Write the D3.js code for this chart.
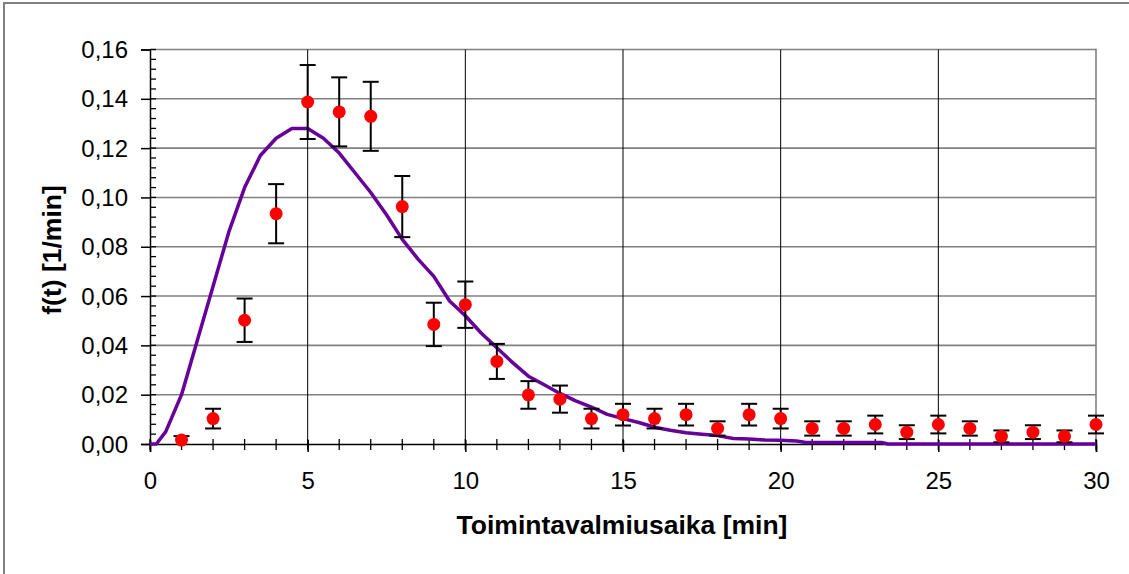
<!DOCTYPE html>
<html>
<head>
<meta charset="utf-8">
<script src="https://cdn.jsdelivr.net/npm/d3@7"></script>
<style>
  html, body { margin: 0; padding: 0; background: #fff; }
  svg { display: block; font-family: "Liberation Sans", Arial, sans-serif; }
</style>
</head>
<body>
<svg id="chart" width="1129" height="574"></svg>
<script>
// Observed density per minute (points with symmetric error bars)
const times = [1, 2, 3, 4, 5, 6, 7, 8, 9, 10, 11, 12, 13, 14, 15, 16, 17, 18, 19, 20, 21, 22, 23, 24, 25, 26, 27, 28, 29, 30];
const observed = [0.0016, 0.0103, 0.0502, 0.0934, 0.1387, 0.1347, 0.1329, 0.0963, 0.0485, 0.0565,
                  0.0335, 0.0199, 0.0182, 0.0103, 0.0119, 0.0103, 0.0119, 0.0063, 0.0119, 0.0103,
                  0.0063, 0.0063, 0.0079, 0.0048, 0.0079, 0.0063, 0.0031, 0.0048, 0.0031, 0.0079];
const errors = [0.0016, 0.0040, 0.0088, 0.0120, 0.0150, 0.0140, 0.0140, 0.0124, 0.0088, 0.0094,
                0.0071, 0.0056, 0.0055, 0.0040, 0.0044, 0.0040, 0.0044, 0.0029, 0.0044, 0.0040,
                0.0029, 0.0029, 0.0036, 0.0028, 0.0036, 0.0029, 0.0024, 0.0028, 0.0024, 0.0036];

// Fitted density curve
const curveT = [0, 0.2, 0.5, 1, 1.5, 2, 2.5, 3, 3.5, 4, 4.5, 5, 5.5, 6, 6.5, 7, 7.5, 8, 8.5, 9, 9.5,
                10, 10.5, 11, 11.5, 12, 12.5, 13, 13.5, 14, 14.5, 15, 15.5, 16, 16.5, 17, 17.5, 18,
                18.5, 19, 19.5, 20, 20.5, 20.8, 21.5, 22.5, 23.2, 23.4, 25, 30];
const curveF = [0, 0, 0.005, 0.020, 0.042, 0.064, 0.086, 0.104, 0.117, 0.124, 0.128, 0.128, 0.124, 0.118,
                0.110, 0.102, 0.093, 0.083, 0.075, 0.068, 0.058, 0.052, 0.045, 0.039, 0.033, 0.0275,
                0.024, 0.0205, 0.0175, 0.015, 0.012, 0.0103, 0.0087, 0.0068, 0.0056, 0.0046, 0.0040,
                0.0034, 0.0022, 0.0020, 0.0016, 0.0015, 0.0012, 0.0006, 0.0006, 0.0006, 0.0006, 0, 0, 0];

const yTicks = [0, 0.02, 0.04, 0.06, 0.08, 0.10, 0.12, 0.14, 0.16];
const xTicks = [0, 5, 10, 15, 20, 25, 30];

const xTitle = "Toimintavalmiusaika [min]";
const yTitle = "f(t) [1/min]";

const svg = d3.select("#chart");
const W = 1129, H = 574;
const plotL = 150, plotR = 1096, plotT = 49.5, plotB = 444;

const x = d3.scaleLinear().domain([0, 30]).range([plotL, plotR]);
const y = d3.scaleLinear().domain([0, 0.16]).range([plotB, plotT]);

const fmt = v => d3.format(".2f")(v).replace(".", ",");

// outer frame
svg.append("rect")
  .attr("x", 4).attr("y", 3).attr("width", W + 20).attr("height", H + 20)
  .attr("fill", "#fff").attr("stroke", "#808080").attr("stroke-width", 2);

// horizontal gridlines
svg.append("g").selectAll("line").data(yTicks.filter(d => d > 0)).join("line")
  .attr("x1", plotL).attr("x2", plotR)
  .attr("y1", d => y(d)).attr("y2", d => y(d))
  .attr("stroke", "#808080").attr("stroke-width", 1.6);

// vertical gridlines
svg.append("g").selectAll("line").data(xTicks.filter(d => d > 0 && d < 30)).join("line")
  .attr("x1", d => x(d)).attr("x2", d => x(d))
  .attr("y1", plotT).attr("y2", plotB)
  .attr("stroke", "#000").attr("stroke-width", 1);

// right border of plot area
svg.append("line")
  .attr("x1", plotR).attr("x2", plotR).attr("y1", plotT - 0.8).attr("y2", plotB)
  .attr("stroke", "#808080").attr("stroke-width", 1.6);

// Y axis
const yAxis = d3.axisLeft(y).tickValues(yTicks).tickFormat(fmt).tickSize(9).tickPadding(13);
const gy = svg.append("g").attr("transform", `translate(${plotL},0)`).call(yAxis);
gy.select(".domain").attr("stroke", "#000").attr("stroke-width", 1.5);
gy.selectAll(".tick line").attr("stroke", "#000").attr("stroke-width", 1.5);
gy.selectAll(".tick text").attr("font-size", 24).attr("fill", "#000")
  .attr("font-family", "'Liberation Sans', Arial, sans-serif").attr("dy", "0.34em");

// Y minor ticks (inside)
const yMinor = d3.range(0, 0.1601, 0.004);
svg.append("g").selectAll("line").data(yMinor).join("line")
  .attr("x1", plotL).attr("x2", plotL + 6)
  .attr("y1", d => y(d)).attr("y2", d => y(d))
  .attr("stroke", "#000").attr("stroke-width", 1.3);

// X axis
const xAxis = d3.axisBottom(x).tickValues(xTicks).tickFormat(d3.format("d")).tickSize(8).tickPadding(20);
const gx = svg.append("g").attr("transform", `translate(0,${plotB})`).call(xAxis);
gx.select(".domain").attr("stroke", "#000").attr("stroke-width", 1.5);
gx.selectAll(".tick line").attr("stroke", "#000").attr("stroke-width", 1.5).attr("y1", -4);
gx.selectAll(".tick text").attr("font-size", 24).attr("fill", "#000")
  .attr("font-family", "'Liberation Sans', Arial, sans-serif");

// X minor ticks (crossing)
const xMinor = d3.range(0, 31, 1);
svg.append("g").selectAll("line").data(xMinor).join("line")
  .attr("x1", d => x(d)).attr("x2", d => x(d))
  .attr("y1", plotB - 5).attr("y2", plotB + 6)
  .attr("stroke", "#000").attr("stroke-width", 1.3);

// fitted curve
const line = d3.line().x((d, i) => x(curveT[i])).y(d => y(d));
svg.append("path").datum(curveF)
  .attr("d", line)
  .attr("fill", "none").attr("stroke", "#660099").attr("stroke-width", 3.5)
  .attr("stroke-linejoin", "round");

// error bars
const pts = times.map((t, i) => ({ t, v: observed[i], e: errors[i] }));
const eb = svg.append("g").attr("stroke", "#000").attr("stroke-width", 2);
eb.selectAll("line.v").data(pts).join("line").attr("class", "v")
  .attr("x1", d => x(d.t)).attr("x2", d => x(d.t))
  .attr("y1", d => y(Math.max(0, d.v - d.e))).attr("y2", d => y(d.v + d.e));
eb.selectAll("line.hi").data(pts).join("line").attr("class", "hi")
  .attr("x1", d => x(d.t) - 8).attr("x2", d => x(d.t) + 8)
  .attr("y1", d => y(d.v + d.e)).attr("y2", d => y(d.v + d.e));
eb.selectAll("line.lo").data(pts.filter(d => d.v - d.e > 0.0002)).join("line").attr("class", "lo")
  .attr("x1", d => x(d.t) - 8).attr("x2", d => x(d.t) + 8)
  .attr("y1", d => y(d.v - d.e)).attr("y2", d => y(d.v - d.e));

// observed points
svg.append("g").selectAll("circle").data(pts).join("circle")
  .attr("cx", d => x(d.t)).attr("cy", d => y(d.v)).attr("r", 6.5)
  .attr("fill", "#ff0000");

// axis titles
svg.append("text")
  .attr("x", 622).attr("y", 534)
  .attr("text-anchor", "middle").attr("font-weight", "bold").attr("font-size", 26.5)
  .text(xTitle);

svg.append("text")
  .attr("transform", `translate(61,250) rotate(-90)`)
  .attr("text-anchor", "middle").attr("font-weight", "bold").attr("font-size", 26.5)
  .text(yTitle);
</script>
</body>
</html>
